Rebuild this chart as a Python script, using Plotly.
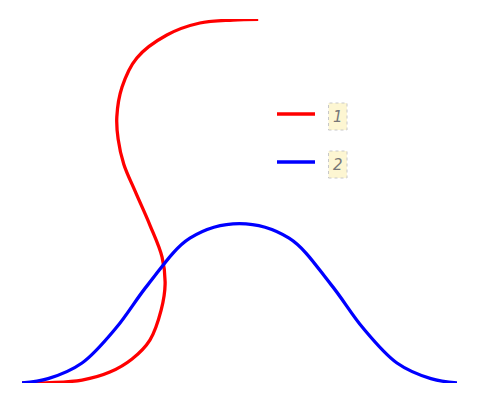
import plotly.graph_objects as go

# Series 1 (red)
red_x = [0, 6.4, 13.8, 20.2, 25.3, 29.4, 32.0, 32.9, 32.2, 29.4, 26.0, 23.4, 22.1, 21.8, 23.0, 26.4, 33.3, 40.9, 48.5, 54.3]
red_y = [0, 0.1, 0.8, 3.0, 6.6, 11.8, 20.1, 27.2, 34.6, 43.4, 52.7, 60.1, 67.0, 73.1, 81.3, 89.3, 95.6, 98.9, 99.7, 99.9]

# Series 2 (blue) – bell-shaped curve
blue_x = [0, 6.0, 13.8, 21.6, 29.0, 38.6, 50.0, 61.4, 71.0, 78.4, 86.2, 94.0, 100]
blue_y = [0, 1.2, 5.5, 15.1, 27.1, 39.8, 43.8, 39.8, 27.1, 15.1, 5.5, 1.2, 0]

series_names = ["1", "2"]
series_colors = ["#ff0000", "#0000ff"]

fig = go.Figure()
fig.add_trace(go.Scatter(x=red_x, y=red_y, mode="lines", name=series_names[0],
                         line=dict(color=series_colors[0], width=3.3, shape="spline", smoothing=1.0),
                         showlegend=False, hoverinfo="skip"))
fig.add_trace(go.Scatter(x=blue_x, y=blue_y, mode="lines", name=series_names[1],
                         line=dict(color=series_colors[1], width=3.3, shape="spline", smoothing=1.0),
                         showlegend=False, hoverinfo="skip"))

OFF = 8  # page body margin
W, H = 464, 388
# plot area in window pixels: x 22..457, y 19..383
L, T = 22 - OFF, 19 - OFF
R, B = W - (457 - OFF), H - (383 - OFF)
pw, ph = W - L - R, H - T - B

def px(x):
    return (x - OFF - L) / pw

def py(y):
    return (H - B - (y - OFF)) / ph

shapes = []
annotations = []
legend_rows = [114, 162]
for name, color, yrow in zip(series_names, series_colors, legend_rows):
    shapes.append(dict(type="line", xref="paper", yref="paper",
                       x0=px(277), x1=px(315), y0=py(yrow), y1=py(yrow),
                       line=dict(color=color, width=3.3)))
    shapes.append(dict(type="rect", xref="paper", yref="paper",
                       x0=px(328.5), x1=px(347), y0=py(yrow + 16), y1=py(yrow - 11),
                       fillcolor="#fdf6d2", line=dict(color="#c8c8c8", width=1, dash="dot"),
                       layer="below"))
    annotations.append(dict(xref="paper", yref="paper", x=px(338), y=py(yrow + 2.5),
                            text=name, showarrow=False,
                            font=dict(family="DejaVu Sans", size=15, color="#777777", style="italic"),
                            xanchor="center", yanchor="middle"))

fig.update_layout(
    width=W, height=H,
    margin=dict(l=L, r=R, t=T, b=B),
    paper_bgcolor="white", plot_bgcolor="white",
    xaxis=dict(range=[0, 100], visible=False, showgrid=False, zeroline=False),
    yaxis=dict(range=[0, 100], visible=False, showgrid=False, zeroline=False),
    shapes=shapes, annotations=annotations,
    showlegend=False,
)

fig.write_html("out.html")
